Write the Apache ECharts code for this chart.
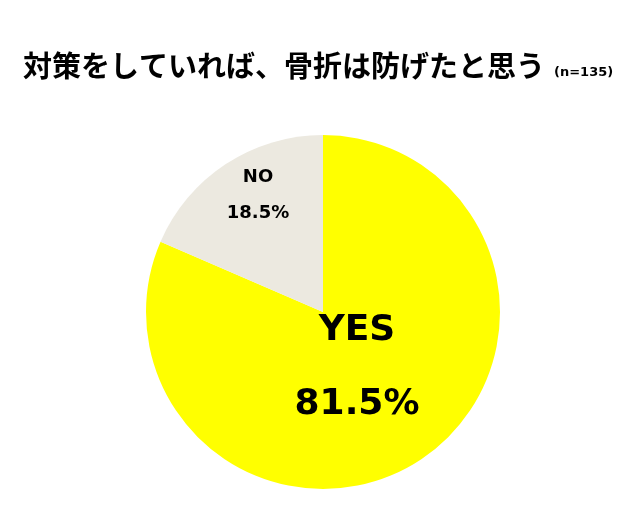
<!DOCTYPE html>
<html><head><meta charset="utf-8">
<script src="https://cdn.jsdelivr.net/npm/echarts@6/dist/echarts.min.js"></script>
<style>html,body{margin:0;padding:0;background:#fff}#c{width:631px;height:516px}</style>
</head><body><div id="c"></div>
<script>
var titleText = '対策をしていれば、骨折は防げたと思う';
var subText = '(n=135)';
var categories = ['YES', 'NO'];
var values = [81.5, 18.5];
var colors = ['#FFFF00', '#ECE9E0'];

var chart = echarts.init(document.getElementById('c'));
var labelPos = [[357, 368], [258, 195]];
var labelStyles = [
  {size: 36, lh: 74},
  {size: 18, lh: 36}
];
chart.setOption({
  animation: false,
  backgroundColor: '#fff',
  title: [
    {text: titleText, left: 18, top: 46, textStyle: {fontFamily: 'Noto Sans CJK JP', fontWeight: 'bold', fontSize: 29, color: '#000'}},
    {text: subText, left: 549, top: 61, textStyle: {fontFamily: 'DejaVu Sans', fontWeight: 'bold', fontSize: 13, color: '#000'}}
  ],
  series: [{
    type: 'pie',
    center: [323, 312],
    radius: 177,
    startAngle: 90,
    clockwise: true,
    silent: true,
    data: categories.map(function (c, i) {
      var s = labelStyles[i];
      return {
        name: c, value: values[i],
        itemStyle: {color: colors[i]},
        label: {
          rich: {
            n: {fontFamily: 'DejaVu Sans', fontWeight: 'bold', fontSize: s.size, lineHeight: s.lh, color: '#000'},
            v: {fontFamily: 'DejaVu Sans', fontWeight: 'bold', fontSize: s.size, lineHeight: s.lh, color: '#000'}
          }
        }
      };
    }),
    label: {
      show: true,
      position: 'inside',
      formatter: function (p) { return '{n|' + p.name + '}\n{v|' + p.value + '%}'; }
    },
    labelLine: {show: false},
    labelLayout: function (p) {
      var pos = labelPos[p.dataIndex];
      return {x: pos[0], y: pos[1], align: 'center', verticalAlign: 'middle'};
    }
  }]
});
</script></body></html>
